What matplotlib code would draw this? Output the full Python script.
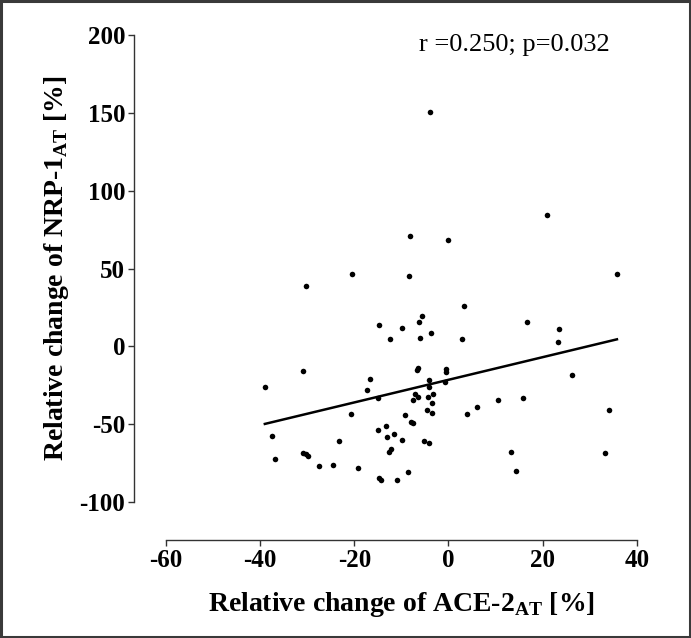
import numpy as np
import matplotlib
matplotlib.use("Agg")
import matplotlib.pyplot as plt
from matplotlib.patches import Rectangle

# values (ACE-2 change vs NRP-1 change, %)
ace2_change = [
    -3.9, -8.2, -0.1, 21.0, -30.3, -20.5, -8.4, -5.6, -6.2, -14.7,
    -9.9, -12.5, -6.0, -3.8, -31.0, -39.0, -16.6, -17.4, -15.0, -6.4,
    -6.7, -4.1, -4.1, -0.5, -0.5, -0.7, -7.1, -6.5, -7.5, -3.3,
    -4.3, -3.5, -4.5, -3.5, -20.7, -9.3, -7.9, -7.5, -37.4, -15.0,
    -13.3, -11.6, -13.0, -9.8, -23.3, -5.1, -4.1, -12.3, -12.6, -36.9,
    -30.8, -30.3, -29.8, -27.6, -24.5, -19.3, -14.8, -14.3, -10.9, -8.6,
    3.3, 2.9, 16.8, 23.5, 23.3, 35.8, 26.2, 15.8, 10.6, 6.1,
    3.9, 34.1, 13.3, 33.3, 14.4,
]
nrp1_change = [
    150.3, 70.8, 68.5, 84.4, 38.6, 46.6, 44.9, 19.3, 15.7, 14.0,
    11.6, 5.0, 5.2, 8.6, -15.8, -25.9, -21.2, -28.3, -33.0, -13.9,
    -15.0, -21.6, -25.9, -14.6, -16.7, -23.2, -30.7, -32.8, -34.3, -30.7,
    -32.8, -36.7, -41.0, -42.7, -43.3, -44.4, -48.7, -49.3, -57.9, -53.6,
    -51.3, -56.2, -58.1, -59.9, -60.5, -60.5, -62.0, -66.1, -67.6, -72.1,
    -68.3, -69.3, -70.6, -77.0, -76.4, -78.1, -84.5, -86.0, -85.6, -80.9,
    25.6, 5.0, 15.7, 11.0, 2.6, 46.6, -18.7, -33.2, -34.3, -39.0,
    -43.3, -41.2, -68.0, -68.3, -80.0,
]
x_ticks = [-60, -40, -20, 0, 20, 40]
y_ticks = [-100, -50, 0, 50, 100, 150, 200]
stats_text = "r =0.250; p=0.032"

plt.rcParams["font.family"] = ["Liberation Serif", "DejaVu Serif"]
plt.rcParams["axes.unicode_minus"] = False
plt.rcParams["mathtext.fontset"] = "custom"
plt.rcParams["mathtext.rm"] = "Liberation Serif:bold"
plt.rcParams["mathtext.bf"] = "Liberation Serif:bold"

x = np.array(ace2_change)
y = np.array(nrp1_change)

fig = plt.figure(figsize=(6.91, 6.38), dpi=100)
ax = fig.add_axes([166 / 691, 136 / 638, 470.7 / 691, 467 / 638])

ax.scatter(x, y, s=16, color="black", linewidths=0, zorder=3)

# least-squares line over the data range
slope, intercept = np.polyfit(x, y, 1)
xs = np.array([x.min(), x.max()])
ax.plot(xs, slope * xs + intercept, color="black", lw=1.8, zorder=2)

ax.set_xlim(-60, 40)
ax.set_ylim(-100, 200)
ax.set_xticks(x_ticks)
ax.set_yticks(y_ticks)

for side in ["top", "right"]:
    ax.spines[side].set_visible(False)
ax.spines["left"].set_position(("outward", 23))
ax.spines["bottom"].set_position(("outward", 27))
for side in ["left", "bottom"]:
    ax.spines[side].set_color("#333333")
    ax.spines[side].set_linewidth(1.0)
ax.tick_params(direction="out", length=4.5, width=1.0, color="#333333",
               pad=2, labelsize=18)
for lbl in ax.get_xticklabels() + ax.get_yticklabels():
    lbl.set_fontweight("bold")
ax.patch.set_visible(False)

ax.set_xlabel(r"Relative change of ACE-2$_{\mathrm{AT}}$ [%]",
              fontsize=20, fontweight="bold", labelpad=13)
ax.set_ylabel(r"Relative change of NRP-1$_{\mathrm{AT}}$ [%]",
              fontsize=20, fontweight="bold", labelpad=6)

fig.text(514 / 691, 1 - 45 / 638, stats_text, fontsize=19,
         ha="center", va="center")

fig.patches.append(Rectangle((0.002, 0.002), 0.996, 0.996, transform=fig.transFigure,
                             fill=False, edgecolor="#3a3a3a", lw=2.2))

fig.savefig("out.png", dpi=100)
